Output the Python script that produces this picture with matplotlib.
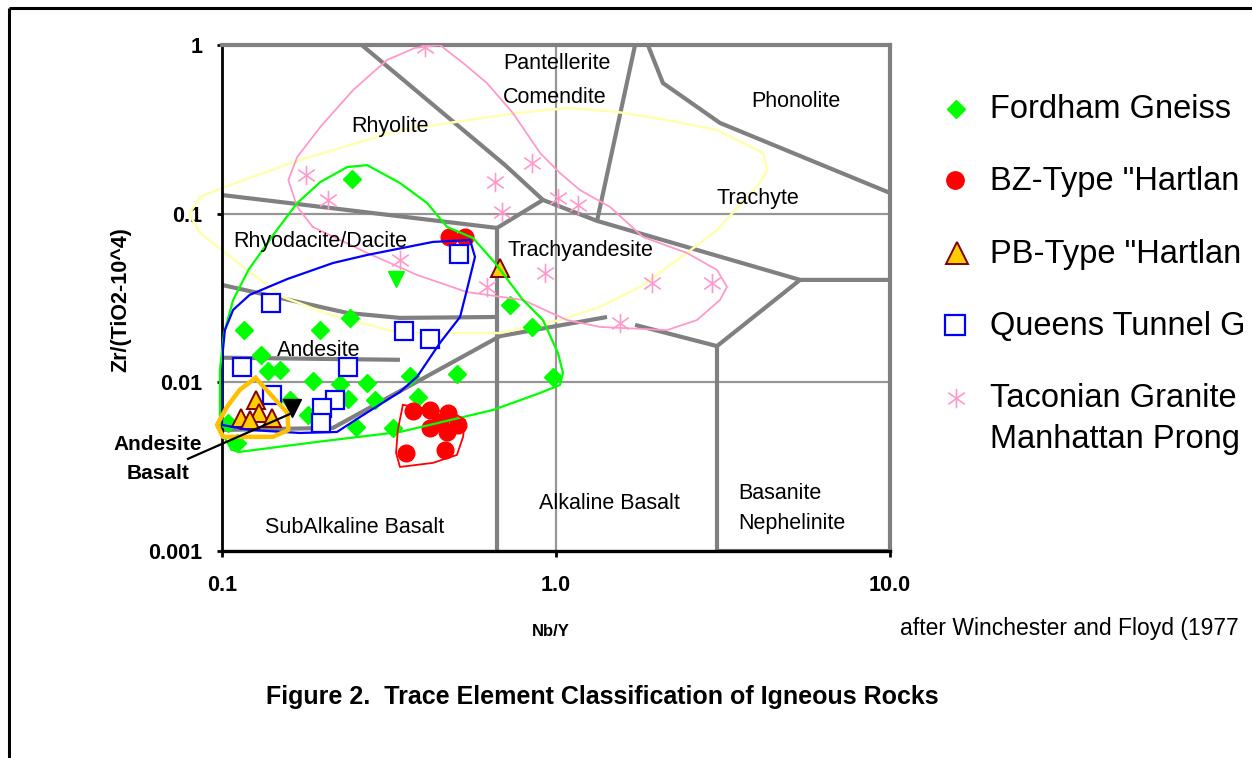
import matplotlib
matplotlib.use('Agg')
import matplotlib.pyplot as plt
from matplotlib.path import Path

plt.rcParams['font.family'] = ['Liberation Sans', 'DejaVu Sans']

# ---------------- data (Nb/Y, Zr/TiO2) ----------------
fordham_x = [0.245, 0.116, 0.197, 0.242, 0.131, 0.137, 0.149, 0.187, 0.226, 0.272,
             0.366, 0.505, 0.160, 0.238, 0.287, 0.386, 0.181, 0.252, 0.325, 0.111,
             0.104, 0.728, 0.848, 0.980]
fordham_y = [0.161, 0.0204, 0.0204, 0.0241, 0.0145, 0.0117, 0.0118, 0.0102, 0.00978, 0.00992,
             0.0109, 0.0112, 0.00786, 0.00797, 0.00786, 0.00820, 0.00641, 0.00544, 0.00537, 0.00437,
             0.00574, 0.0288, 0.0213, 0.0108]
fordham_v_x = [0.332]
fordham_v_y = [0.0410]

bz_x = [0.478, 0.534, 0.373, 0.420, 0.475, 0.509, 0.449, 0.472, 0.420, 0.356, 0.465]
bz_y = [0.0728, 0.0728, 0.00677, 0.00686, 0.00659, 0.00559, 0.00582, 0.00508, 0.00537, 0.00382, 0.00398]

pb_x = [0.680, 0.114, 0.126, 0.129, 0.141, 0.121]
pb_y = [0.0477, 0.00615, 0.00786, 0.00659, 0.00615, 0.00598]

black_v_x = [0.162]
black_v_y = [0.00705]

queens_x = [0.512, 0.140, 0.115, 0.351, 0.420, 0.238, 0.141, 0.218, 0.199, 0.198]
queens_y = [0.0577, 0.0296, 0.0123, 0.0202, 0.0181, 0.0123, 0.00842, 0.00786, 0.00705, 0.00574]

taconian_x = [0.405, 0.178, 0.208, 0.657, 0.848, 0.689, 1.014, 1.164, 0.341, 0.621,
              0.927, 1.938, 2.931, 1.556]
taconian_y = [0.973, 0.170, 0.1206, 0.154, 0.200, 0.1023, 0.124, 0.1126, 0.0531, 0.0368,
              0.0445, 0.0388, 0.0388, 0.0225]

# field loops drawn around each group
green_loop_x = [0.107, 0.0986, 0.0986, 0.1014, 0.108, 0.120, 0.146, 0.168, 0.197, 0.237, 0.272,
                0.341, 0.411, 0.472, 0.564, 0.657, 0.796, 0.914, 1.014, 1.049, 1.028, 0.896,
                0.648, 0.341, 0.192, 0.113, 0.107]
green_loop_y = [0.00398, 0.00522, 0.0118, 0.0196, 0.0308, 0.0464, 0.0801, 0.1157, 0.154, 0.189, 0.194,
                0.152, 0.1157, 0.0834, 0.0718, 0.0510, 0.0308, 0.0234, 0.0149, 0.0114, 0.00965, 0.00865,
                0.00686, 0.00508, 0.00443, 0.00387, 0.00398]

blue_loop_x = [0.100, 0.100, 0.102, 0.108, 0.121, 0.157, 0.215, 0.272, 0.428, 0.553, 0.572,
               0.541, 0.516, 0.449, 0.384, 0.341, 0.259, 0.221, 0.171, 0.121, 0.100]
blue_loop_y = [0.00559, 0.0136, 0.0204, 0.0269, 0.0330, 0.0410, 0.0510, 0.0569, 0.0680, 0.0698, 0.0554,
               0.0353, 0.0244, 0.0171, 0.0108, 0.00877, 0.00623, 0.00508, 0.00501, 0.00522, 0.00559]

red_loop_x = [0.348, 0.492, 0.534, 0.527, 0.505, 0.428, 0.341, 0.332, 0.336, 0.348]
red_loop_y = [0.00735, 0.00659, 0.00598, 0.00475, 0.00371, 0.00333, 0.00315, 0.00382, 0.00522, 0.00735]

orange_loop_x = [0.126, 0.157, 0.158, 0.142, 0.1007, 0.0966, 0.1035, 0.113, 0.126]
orange_loop_y = [0.01062, 0.00659, 0.00522, 0.00475, 0.00475, 0.00559, 0.00715, 0.00902, 0.01062]

pink_loop_x = [0.187, 0.272, 0.384, 0.541, 0.796, 1.079, 1.355, 2.148, 2.643, 3.097, 3.251,
               3.034, 2.466, 1.820, 1.452, 1.180, 1.028, 0.896, 0.743, 0.621, 0.527, 0.449,
               0.378, 0.312, 0.247, 0.197, 0.168, 0.158, 0.168, 0.187]
pink_loop_y = [0.0834, 0.0585, 0.0433, 0.0343, 0.0308, 0.0234, 0.0213, 0.0204, 0.0234, 0.0308, 0.0368,
               0.0464, 0.0585, 0.0728, 0.1096, 0.138, 0.174, 0.229, 0.395, 0.595, 0.782, 1.0,
               0.960, 0.815, 0.541, 0.327, 0.217, 0.158, 0.1096, 0.0834]

yellow_loop_x = [0.0802, 0.0859, 0.100, 0.171, 0.341, 0.764, 1.079, 1.523, 2.148, 3.034, 4.169,
                 4.285, 4.083, 3.034, 2.466, 1.784, 1.355, 1.028, 0.680, 0.341, 0.211, 0.152,
                 0.1188, 0.0859, 0.0802]
yellow_loop_y = [0.1010, 0.1256, 0.142, 0.208, 0.313, 0.395, 0.423, 0.401, 0.359, 0.313, 0.229,
                 0.182, 0.152, 0.0801, 0.0585, 0.0368, 0.0280, 0.0234, 0.0196, 0.0196, 0.0251, 0.0321,
                 0.0464, 0.0769, 0.0982]

# classification field boundaries (Winchester & Floyd 1977)
bnd_a_x = [0.262, 0.704, 0.914];               bnd_a_y = [1.0, 0.194, 0.1206]
bnd_b_x = [0.666, 0.914, 1.327, 5.379, 10.0];  bnd_b_y = [0.0823, 0.1206, 0.0906, 0.0405, 0.0405]
bnd_c_x = [1.725, 1.327];                      bnd_c_y = [1.0, 0.0906]
bnd_d_x = [1.884, 2.090, 3.097, 10.0];         bnd_d_y = [1.0, 0.595, 0.345, 0.1327]
bnd_e_x = [0.1, 0.666];                        bnd_e_y = [0.129, 0.0823]
bnd_f_x = [0.1, 0.237, 0.341, 0.666];          bnd_f_y = [0.0378, 0.0258, 0.0241, 0.0244]
bnd_g_x = [0.1, 0.341];                        bnd_g_y = [0.0140, 0.0136]
bnd_h_x = [0.1, 0.215, 0.680, 1.422];          bnd_h_y = [0.00522, 0.00537, 0.0188, 0.0244]
bnd_i_x = [1.725, 3.034, 5.379];               bnd_i_y = [0.0219, 0.0164, 0.0405]
bnd_k_x = [0.666, 0.666];                      bnd_k_y = [0.0823, 0.001]
bnd_l_x = [3.034, 3.034];                      bnd_l_y = [0.0164, 0.001]
bnd_m_x = [3.034, 10.0];                       bnd_m_y = [0.001, 0.001]

pointer_x = [0.0791, 0.160]
pointer_y = [0.00352, 0.0065]

x_ticks = [0.1, 1.0, 10.0]
x_tick_labels = ['0.1', '1.0', '10.0']
y_ticks = [0.001, 0.01, 0.1, 1.0]
y_tick_labels = ['0.001', '0.01', '0.1', '1']

field_labels = [
    ('Pantellerite', 0.5015, 0.9644, 'center'),
    ('Comendite', 0.4985, 0.8972, 'center'),
    ('Phonolite', 0.8593, 0.8893, 'center'),
    ('Rhyolite', 0.2515, 0.8399, 'center'),
    ('Trachyte', 0.8024, 0.6957, 'center'),
    ('Rhyodacite/Dacite', 0.1467, 0.6126, 'center'),
    ('Trachyandesite', 0.5359, 0.5929, 'center'),
    ('Andesite', 0.1452, 0.3972, 'center'),
    ('SubAlkaline Basalt', 0.1991, 0.0474, 'center'),
    ('Alkaline Basalt', 0.5793, 0.0929, 'center'),
    ('Basanite', 0.7725, 0.1146, 'left'),
    ('Nephelinite', 0.7725, 0.0553, 'left'),
]

# legend labels as visible in the reference (cut at the picture's right edge)
legend_labels = ['Fordham Gneiss', 'BZ-Type "Hartlan', 'PB-Type "Hartlan',
                 'Queens Tunnel G', 'Taconian Granite', 'Manhattan Prong']

# ---------------- styles ----------------
GRAY = '#808080'
GRID = '#969696'
PINK = '#FF99CC'
star_path = Path([(0, -1), (0, 1), (-0.85, -0.6), (0.85, 0.6), (-0.85, 0.6), (0.85, -0.6)],
                 [Path.MOVETO, Path.LINETO, Path.MOVETO, Path.LINETO, Path.MOVETO, Path.LINETO])

W, H = 1252, 758
fig = plt.figure(figsize=(W / 100, H / 100), dpi=100)
fig.patch.set_facecolor('white')
ax = fig.add_axes([222 / W, 1 - 551 / H, 668 / W, 506 / H])
ax.set_xscale('log')
ax.set_yscale('log')
ax.set_xlim(0.1, 10)
ax.set_ylim(0.001, 1)

# grid
for gy in [0.1, 0.01]:
    ax.plot([0.1, 10], [gy, gy], color=GRID, lw=1.6, zorder=0.5, solid_capstyle='butt')
ax.plot([1, 1], [0.001, 1], color=GRID, lw=1.6, zorder=0.5, solid_capstyle='butt')

# boundaries
bnds = [(bnd_a_x, bnd_a_y), (bnd_b_x, bnd_b_y), (bnd_c_x, bnd_c_y), (bnd_d_x, bnd_d_y),
        (bnd_e_x, bnd_e_y), (bnd_f_x, bnd_f_y), (bnd_g_x, bnd_g_y), (bnd_h_x, bnd_h_y),
        (bnd_i_x, bnd_i_y), (bnd_k_x, bnd_k_y), (bnd_l_x, bnd_l_y), (bnd_m_x, bnd_m_y)]
for bx, by in bnds:
    ax.plot(bx, by, color=GRAY, lw=3.0, zorder=1, solid_capstyle='butt', solid_joinstyle='miter')

# points
ax.plot(fordham_x, fordham_y, ls='none', marker='D', ms=8.8, mfc='#00FF00', mec='#00FF00', zorder=3)
ax.plot(fordham_v_x, fordham_v_y, ls='none', marker='v', ms=11, mfc='#00FF00', mec='#00FF00', zorder=3)
ax.plot(bz_x, bz_y, ls='none', marker='o', ms=12, mfc='#FF0000', mec='#FF0000', zorder=3.2)
ax.plot(queens_x, queens_y, ls='none', marker='s', ms=13.5, mfc='white', mec='#0000FF', mew=1.6, zorder=3.3)
ax.plot(pb_x, pb_y, ls='none', marker='^', ms=13, mfc='#FFCC00', mec='#800000', mew=1.4, zorder=3.5)
ax.plot(black_v_x, black_v_y, ls='none', marker='v', ms=13, mfc='black', mec='black', zorder=3.5)
ax.plot(taconian_x, taconian_y, ls='none', marker=star_path, ms=14, mfc='none', mec=PINK, mew=1.2, zorder=3.4)

# loops
ax.plot(yellow_loop_x, yellow_loop_y, color='#FFFFB0', lw=1.8, zorder=2, clip_on=False)
ax.plot(pink_loop_x, pink_loop_y, color=PINK, lw=1.3, zorder=4)
ax.plot(green_loop_x, green_loop_y, color='#00FF00', lw=1.6, zorder=4, clip_on=False)
ax.plot(blue_loop_x, blue_loop_y, color='#0000FF', lw=1.6, zorder=4)
ax.plot(red_loop_x, red_loop_y, color='#FF0000', lw=1.3, zorder=4)
ax.plot(orange_loop_x, orange_loop_y, color='#FFC000', lw=3.2, zorder=4.2, clip_on=False,
        solid_joinstyle='round')

# pointer line for Andesite Basalt
ax.plot(pointer_x, pointer_y, color='black', lw=1.6, zorder=4.5, clip_on=False)

# spines
for s in ['top', 'right']:
    ax.spines[s].set_color(GRAY)
    ax.spines[s].set_linewidth(3.0)
ax.spines['left'].set_color('black')
ax.spines['left'].set_linewidth(2.0)
ax.spines['bottom'].set_color('black')
ax.spines['bottom'].set_linewidth(2.4)

ax.minorticks_off()
ax.set_xticks(x_ticks)
ax.set_xticklabels(x_tick_labels, fontsize=15.5, fontweight='bold')
ax.set_yticks(y_ticks)
ax.set_yticklabels(y_tick_labels, fontsize=15.5, fontweight='bold')
ax.tick_params(axis='x', which='major', direction='out', length=4.5, width=2, pad=13)
ax.tick_params(axis='y', which='major', direction='out', length=3.6, width=2, pad=10.5)
ax.tick_params(which='minor', length=0)

for txt, fx, fy, ha in field_labels:
    ax.text(fx, fy, txt, transform=ax.transAxes, fontsize=15.5, ha=ha, va='center', zorder=5)

# overlay axes in pixel units for legend and frame
lax = fig.add_axes([0, 0, 1, 1], facecolor='none')
lax.set_xlim(0, W)
lax.set_ylim(H, 0)
lax.axis('off')

lax.plot([9, 9], [H, 8], color='black', lw=2.2, solid_capstyle='butt')
lax.plot([9, W], [8, 8], color='black', lw=2.2, solid_capstyle='butt')

lax.plot([956], [109], marker='D', ms=9.6, mfc='#00FF00', mec='#00FF00', ls='none')
lax.plot([955], [180], marker='o', ms=12.5, mfc='#FF0000', mec='#FF0000', ls='none')
lax.plot([957], [253], marker='^', ms=16, mfc='#FFCC00', mec='#800000', mew=1.4, ls='none')
lax.plot([955], [325], marker='s', ms=14.5, mfc='white', mec='#0000FF', mew=1.6, ls='none')
lax.plot([956], [398], marker=star_path, ms=14, mfc='none', mec=PINK, mew=1.2, ls='none')

legend_baselines = [118, 190, 263, 335, 407, 448]
for lab, yb in zip(legend_labels, legend_baselines):
    lax.text(990, yb, lab, fontsize=23.5, ha='left', va='baseline')

lax.text(158, 459, 'Andesite\nBasalt', fontsize=15, fontweight='bold', ha='center', va='center',
         linespacing=1.65)

fig.text(121 / W, 1 - 300 / H, 'Zr/(TiO2-10^4)', rotation=90, fontsize=15.5, fontweight='bold',
         ha='center', va='center')
fig.text(551 / W, 1 - 632 / H, 'Nb/Y', fontsize=12, fontweight='bold', ha='center', va='center')
fig.text(900 / W, 1 - 628 / H, 'after Winchester and Floyd (1977', fontsize=16.5, ha='left', va='center')
fig.text(602 / W, 1 - 697 / H, 'Figure 2.  Trace Element Classification of Igneous Rocks',
         fontsize=18, fontweight='bold', ha='center', va='center')

fig.savefig('out.png', dpi=100, facecolor='white')
